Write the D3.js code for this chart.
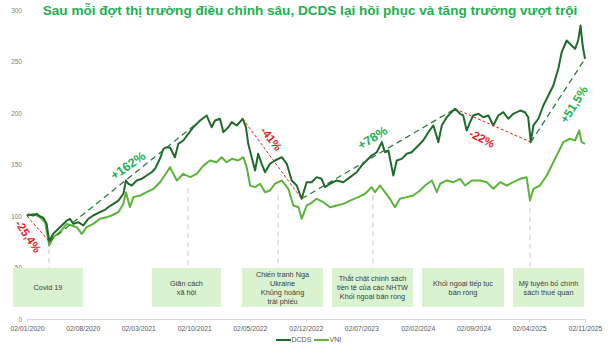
<!DOCTYPE html>
<html><head><meta charset="utf-8">
<script src="https://cdn.jsdelivr.net/npm/d3@7/dist/d3.min.js"></script>
<style>
html,body{margin:0;padding:0;background:#fff;}
svg{display:block;font-family:"Liberation Sans",Arial,sans-serif;}
</style></head>
<body><svg id="c" width="612" height="349"></svg>
<script>
const titleText = "Sau mỗi đợt thị trường điều chỉnh sâu, DCDS lại hồi phục và tăng trưởng vượt trội";
const seriesNames = ["DCDS", "VNI"];
const yTicks = [0, 50, 100, 150, 200, 250, 300];
const xTickDates = ["2020-01-02","2020-08-02","2021-03-02","2021-10-02","2022-05-02","2022-12-02","2023-07-02","2024-02-02","2024-09-02","2025-04-02","2025-11-02"];

const dcdsDates = ["2020-01-02","2020-01-07","2020-01-26","2020-02-08","2020-02-21","2020-03-04","2020-03-17","2020-03-27","2020-04-11","2020-05-01","2020-05-14","2020-06-02","2020-06-14","2020-06-27","2020-07-16","2020-08-04","2020-08-23","2020-09-11","2020-10-07","2020-10-26","2020-11-07","2020-11-27","2020-12-16","2021-01-04","2021-01-14","2021-01-23","2021-02-05","2021-02-24","2021-03-15","2021-04-03","2021-04-22","2021-05-05","2021-05-24","2021-06-06","2021-06-19","2021-07-01","2021-07-20","2021-08-02","2021-08-21","2021-09-09","2021-09-28","2021-10-24","2021-11-18","2021-12-07","2021-12-20","2022-01-08","2022-01-21","2022-02-09","2022-02-22","2022-03-13","2022-04-05","2022-04-17","2022-04-26","2022-05-09","2022-05-22","2022-06-03","2022-06-16","2022-06-29","2022-07-18","2022-08-06","2022-09-01","2022-09-20","2022-10-09","2022-10-28","2022-11-16","2022-12-05","2022-12-24","2023-01-12","2023-01-31","2023-02-13","2023-03-04","2023-03-30","2023-04-24","2023-05-20","2023-06-14","2023-07-03","2023-07-22","2023-08-10","2023-08-30","2023-09-18","2023-09-30","2023-10-13","2023-11-01","2023-11-14","2023-12-03","2023-12-22","2024-01-10","2024-01-29","2024-02-23","2024-03-14","2024-04-02","2024-04-21","2024-05-04","2024-05-23","2024-06-04","2024-06-24","2024-07-13","2024-07-25","2024-08-07","2024-08-20","2024-09-01","2024-09-21","2024-10-10","2024-10-29","2024-11-17","2024-12-06","2024-12-25","2025-01-13","2025-02-01","2025-02-27","2025-03-18","2025-03-30","2025-04-09","2025-04-19","2025-05-08","2025-05-27","2025-06-15","2025-07-04","2025-07-23","2025-08-05","2025-08-24","2025-09-12","2025-09-25","2025-10-07","2025-10-16","2025-10-24","2025-11-02"];
const dcdsValues = [100,101.5,100.5,102.1,99.5,98.3,92.4,75.2,82.7,87.6,90.8,95.6,97.3,92.4,94.0,90.8,97.3,100.5,103.7,106.0,108.5,111.8,115.0,121.6,134.5,131.3,129.6,134.5,136.1,139.3,142.5,145.8,155.8,165.2,166.8,166.5,157.1,170.1,173.3,179.8,186.2,192.7,197.6,186.2,192.7,194.4,181.4,186.2,191.1,187.9,194.4,186.2,170.1,157.1,144.2,160.4,150.7,142.5,150.7,153.9,157.1,150.7,134.5,129.6,116.7,132.8,132.8,137.7,136.1,128.0,131.3,134.5,132.8,137.7,142.5,149.0,153.9,158.7,161.9,171.7,161.9,163.6,139.3,153.9,155.5,160.4,161.9,166.8,173.3,181.4,187.9,171.7,187.9,195.9,199.2,204.1,199.2,197.6,183.0,191.1,197.6,199.2,195.9,197.6,187.9,197.6,200.8,194.4,199.2,202.4,200.8,195.9,171.7,187.9,194.4,207.3,217.0,226.7,242.9,259.0,270.4,265.5,262.3,270.4,285.0,265.5,252.6];

const vniDates = ["2020-01-02","2020-01-26","2020-02-21","2020-03-11","2020-03-27","2020-04-11","2020-05-07","2020-06-02","2020-06-21","2020-07-10","2020-07-29","2020-08-17","2020-09-11","2020-10-07","2020-11-01","2020-11-20","2020-12-16","2021-01-04","2021-01-14","2021-01-29","2021-02-11","2021-03-09","2021-04-03","2021-04-29","2021-05-24","2021-06-19","2021-07-01","2021-07-27","2021-08-21","2021-09-16","2021-10-11","2021-11-06","2021-12-01","2021-12-26","2022-01-14","2022-02-02","2022-02-22","2022-03-19","2022-04-07","2022-04-20","2022-05-03","2022-05-22","2022-06-10","2022-06-29","2022-07-18","2022-08-06","2022-09-01","2022-09-26","2022-10-15","2022-11-04","2022-11-16","2022-12-05","2022-12-18","2023-01-12","2023-02-07","2023-03-04","2023-03-30","2023-04-24","2023-05-20","2023-06-20","2023-07-16","2023-08-10","2023-08-23","2023-09-11","2023-09-30","2023-10-19","2023-11-07","2023-11-26","2023-12-22","2024-01-16","2024-02-11","2024-03-01","2024-03-27","2024-04-15","2024-04-28","2024-05-23","2024-06-18","2024-07-13","2024-08-01","2024-08-27","2024-09-28","2024-10-23","2024-11-17","2024-12-13","2025-01-07","2025-02-01","2025-02-27","2025-03-24","2025-04-06","2025-04-19","2025-05-14","2025-06-09","2025-07-04","2025-07-23","2025-08-11","2025-09-06","2025-09-25","2025-10-11","2025-10-20","2025-11-02"];
const vniValues = [100,102.1,98.8,94.0,71.4,79.4,84.3,92.4,90.8,89.1,82.7,89.1,92.4,97.3,98.8,100.5,103.7,111.8,123.1,108.5,118.3,119.9,123.1,126.4,132.8,142.5,147.4,134.5,141.0,137.7,141.0,149.0,153.9,152.2,157.1,152.2,155.5,153.9,157.1,147.4,129.6,128.0,131.3,123.1,124.8,131.3,134.5,126.4,110.2,108.5,97.3,110.2,111.8,116.7,113.4,108.5,110.2,111.8,115.0,118.3,121.6,128.0,123.1,129.6,123.1,116.7,108.5,116.7,118.3,119.9,124.8,129.6,134.5,123.1,131.3,134.5,132.8,136.1,129.6,134.5,134.5,132.8,126.4,132.8,129.6,132.8,136.1,137.7,115.0,126.4,129.6,139.3,152.2,161.9,171.7,175.0,173.3,183.0,171.7,170.1];

// Trend moves of DCDS (from date, to date, label)
const moveFrom = ["2020-01-02","2020-03-27","2022-04-05","2022-11-16","2024-06-24","2025-04-09"];
const moveTo   = ["2020-03-27","2021-11-18","2022-11-16","2024-06-24","2025-04-09","2025-11-02"];
const moveLabels = ["-25,4%","+162%","-41%","+78%","-22%","+51,5%"];

// Events
const eventTexts = [["Covid 19"],["Giãn cách","xã hội"],["Chiến tranh Nga","Ukraine","Khủng hoảng","trái phiếu"],["Thắt chặt chính sách","tiền tệ của các NHTW","Khối ngoại bán ròng"],["Khối ngoại tiếp tục","bán ròng"],["Mỹ tuyên bố chính","sách thuế quan"]];
const eventDates = ["2020-03-26","2021-09-08",  "2022-08-18","2023-08-15",null,"2025-04-06"];
const eventLineTop = [68, 127, 120, 120, null, 108];

// ---- layout (pixels / styles) ----
const boxLeft  = [13, 152, 242, 332, 422, 513];
const boxRight = [83, 221, 323, 413, 504, 584];
const boxTop = 268, boxBottom = 307;
const labelOffset = [[-10,7.5],[0,-13],[-1,-20],[-6,-16],[-11,13],[16,4]];
const labelAngle = [56,-35,52,-32,27,-58];
const labelSize = [11.5,12.5,11.5,12.5,11.5,12];

const C = {dcds:"#1f6b2c", vni:"#5cb43a", red:"#e2241f", green:"#21b04f", trend:"#2f7a3b", box:"#d9f2d0"};
const parse = d3.timeParse("%Y-%m-%d");
const svg = d3.select("#c");

const x = d3.scaleTime().domain([parse("2020-01-02"), parse("2025-11-02")]).range([27, 585]);
const y = d3.scaleLinear().domain([0, 300]).range([319, 10]);

// Title
const title = svg.append("text").attr("x", 310).attr("y", 15).attr("text-anchor","middle")
  .attr("fill", C.green).attr("font-weight","bold").attr("font-size", 15).text(titleText);
const tw = title.node().getComputedTextLength();
title.attr("font-size", 15 * 535 / tw);

// Y axis labels
const yAxis = d3.axisLeft(y).tickValues(yTicks).tickSize(0).tickPadding(0);
const gy = svg.append("g").attr("transform","translate(22,0)").call(yAxis);
gy.select(".domain").remove();
gy.selectAll("text").attr("fill","#7f7f7f").attr("font-size",6.5).attr("font-family","Liberation Sans, Arial, sans-serif");

// X axis
const xAxis = d3.axisBottom(x).tickValues(xTickDates.map(parse)).tickFormat(d3.timeFormat("%d/%m/%Y")).tickSize(3).tickSizeOuter(0).tickPadding(4);
const gx = svg.append("g").attr("transform",`translate(0,${y(0)})`).call(xAxis);
gx.select(".domain").attr("stroke","#d9d9d9");
gx.selectAll(".tick line").attr("stroke","#d9d9d9");
gx.selectAll("text").attr("fill","#595959").attr("font-size",6.8).attr("font-family","Liberation Sans, Arial, sans-serif");

// Event boxes
eventTexts.forEach((lines, i) => {
  const g = svg.append("g");
  g.append("rect").attr("x", boxLeft[i]).attr("y", boxTop).attr("width", boxRight[i]-boxLeft[i]).attr("height", boxBottom-boxTop).attr("fill", C.box);
  const cx = (boxLeft[i]+boxRight[i])/2, cy = (boxTop+boxBottom)/2;
  const lh = 9;
  lines.forEach((t, j) => {
    g.append("text").attr("x", cx).attr("y", cy + (j - (lines.length-1)/2)*lh).attr("dy","0.35em")
      .attr("text-anchor","middle").attr("font-size",7.3).attr("fill","#404040").text(t);
  });
  if (eventDates[i]) {
    svg.append("line").attr("x1", x(parse(eventDates[i]))).attr("x2", x(parse(eventDates[i])))
      .attr("y1", y(eventLineTop[i])).attr("y2", boxTop)
      .attr("stroke","#c9c9c9").attr("stroke-width",1).attr("stroke-dasharray","5,4");
  }
});

// Lines
const dcds = dcdsDates.map((d,i)=>({date:parse(d), v:dcdsValues[i]}));
const vni = vniDates.map((d,i)=>({date:parse(d), v:vniValues[i]}));
const line = d3.line().x(d=>x(d.date)).y(d=>y(d.v));
svg.append("path").datum(vni).attr("d", line).attr("fill","none").attr("stroke", C.vni).attr("stroke-width",2).attr("stroke-linejoin","round");
svg.append("path").datum(dcds).attr("d", line).attr("fill","none").attr("stroke", C.dcds).attr("stroke-width",2).attr("stroke-linejoin","round");

// Trend moves
const valAt = ds => dcds.find(p => +p.date === +parse(ds)).v;
moveLabels.forEach((lab, i) => {
  const x1 = x(parse(moveFrom[i])), y1 = y(valAt(moveFrom[i]));
  const x2 = x(parse(moveTo[i])), y2 = y(valAt(moveTo[i]));
  const up = lab.startsWith("+");
  svg.append("line").attr("x1",x1).attr("y1",y1).attr("x2",x2).attr("y2",y2)
    .attr("stroke", up ? C.trend : C.red).attr("stroke-width", up ? 1.3 : 1)
    .attr("stroke-dasharray", up ? "6,4" : "3,2");
  const mx = (x1+x2)/2 + labelOffset[i][0], my = (y1+y2)/2 + labelOffset[i][1];
  svg.append("text").attr("transform", `translate(${mx},${my}) rotate(${labelAngle[i]})`)
    .attr("text-anchor","middle").attr("dy","0.35em").attr("font-weight","bold")
    .attr("font-size", labelSize[i]).attr("fill", up ? C.green : C.red).text(lab);
});

// Legend
const lg = svg.append("g").attr("transform","translate(0,340)");
[[276, C.dcds, seriesNames[0]],[314, C.vni, seriesNames[1]]].forEach(([lx,col,name])=>{
  lg.append("line").attr("x1",lx).attr("x2",lx+15).attr("y1",0).attr("y2",0).attr("stroke",col).attr("stroke-width",2);
  lg.append("text").attr("x",lx+15.5).attr("y",0).attr("dy","0.35em").attr("font-size",7).attr("fill","#595959").text(name);
});
</script></body></html>
